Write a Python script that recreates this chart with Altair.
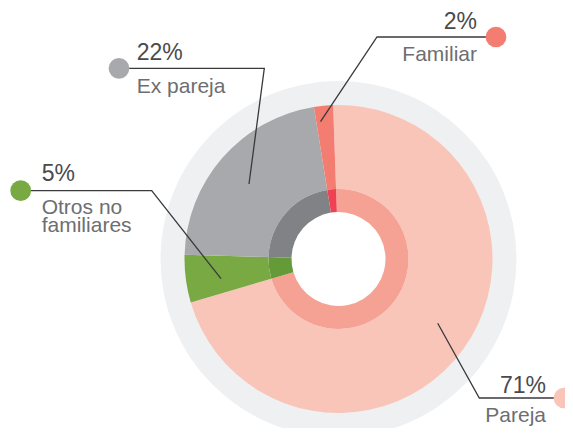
import math
import altair as alt
import pandas as pd

# ---- data -------------------------------------------------------------
categories = ["Pareja", "Otros no familiares", "Ex pareja", "Familiar"]
values = [71, 5, 22, 2]
pct_labels = ["71%", "5%", "22%", "2%"]
name_labels = ["Pareja", "Otros no\nfamiliares", "Ex pareja", "Familiar"]

# ---- styles -----------------------------------------------------------
outer_colors = ["#F9C5B9", "#78A942", "#A7A9AC", "#F47D72"]
inner_colors = ["#F5A294", "#649A37", "#808285", "#EF4151"]
dot_colors = ["#F9C5B9", "#78A942", "#A7A9AC", "#F47D72"]

W, H = 557, 420
CX, CY = 330.5, 251
R_BG, R_OUT, R_RING, R_HOLE = 178, 154, 70, 47
START = 2 * math.pi - 2 * math.pi / 180  # slight rotation

# label layout (pixel positions for annotations)
dot_xy = [(556, 390), (12.7, 182.7), (111, 60.3), (488, 29)]
elbow_xy = [(471.3, 390), (143.7, 182.7), (256.3, 60.3), (369, 29)]
tip_xy = [(429.7, 315.3), (213, 270.7), (241, 176), (312.5, 113.7)]
pct_xy = [(538, 385), (33.7, 172.7), (128.7, 52), (469, 21)]
name_xy = [(538, 413.7), (33.7, 206), (128.7, 85), (469, 52.7)]
aligns = ["right", "left", "left", "right"]

df = pd.DataFrame({"cat": categories, "value": values, "idx": list(range(len(values)))})

theta_enc = alt.Theta("value:Q", stack=True,
                      scale=alt.Scale(range=[START, START + 2 * math.pi]))
order_enc = alt.Order("idx:Q")

bg = alt.Chart(pd.DataFrame({"v": [1]})).mark_arc(
    radius=R_BG, radius2=R_OUT - 4, color="#EFF0F2", x=CX, y=CY
).encode(theta=alt.value(0), theta2=alt.value(2 * math.pi))

outer = alt.Chart(df).mark_arc(radius=R_OUT, radius2=R_RING, x=CX, y=CY).encode(
    theta=theta_enc, order=order_enc,
    color=alt.Color("cat:N", scale=alt.Scale(domain=categories, range=outer_colors), legend=None),
)

inner = alt.Chart(df).mark_arc(radius=R_RING, radius2=R_HOLE, x=CX, y=CY).encode(
    theta=theta_enc, order=order_enc,
    fill=alt.Fill("cat:N", scale=alt.Scale(domain=categories, range=inner_colors), legend=None),
)

# leader lines
rows = []
for i, c in enumerate(categories):
    for j, (x, y) in enumerate([dot_xy[i], elbow_xy[i], tip_xy[i]]):
        rows.append({"cat": c, "x": x, "y": y, "k": j})
lines_df = pd.DataFrame(rows)
leaders = alt.Chart(lines_df).mark_line(color="#3A3A3C", strokeWidth=1.3).encode(
    x=alt.X("x:Q", scale=None), y=alt.Y("y:Q", scale=None),
    detail="cat:N", order="k:Q",
)

dots_df = pd.DataFrame({"cat": categories,
                        "x": [p[0] for p in dot_xy], "y": [p[1] for p in dot_xy]})
dots = alt.Chart(dots_df).mark_circle(size=430, opacity=1).encode(
    x=alt.X("x:Q", scale=None), y=alt.Y("y:Q", scale=None),
    color=alt.Color("cat:N", scale=alt.Scale(domain=categories, range=dot_colors), legend=None),
)

text_layers = []
for i, c in enumerate(categories):
    tdf = pd.DataFrame({"t": [pct_labels[i]], "x": [pct_xy[i][0]], "y": [pct_xy[i][1]]})
    text_layers.append(
        alt.Chart(tdf).mark_text(font="Liberation Sans", fontSize=23, color="#4A4A4C",
                                 align=aligns[i], baseline="alphabetic").encode(
            x=alt.X("x:Q", scale=None), y=alt.Y("y:Q", scale=None), text="t:N")
    )
    ndf = pd.DataFrame({"t": [name_labels[i]], "x": [name_xy[i][0]], "y": [name_xy[i][1]]})
    text_layers.append(
        alt.Chart(ndf).mark_text(font="Liberation Sans", fontSize=21, color="#6D6E71",
                                 align=aligns[i], baseline="alphabetic",
                                 lineBreak="\n", lineHeight=18).encode(
            x=alt.X("x:Q", scale=None), y=alt.Y("y:Q", scale=None), text="t:N")
    )

chart = alt.layer(bg, outer, inner, leaders, dots, *text_layers).properties(
    width=W, height=H, autosize=alt.AutoSizeParams(type="none"), padding=0,
    background="white",
).configure_view(stroke=None)

chart.save("out.html", embed_options={"renderer": "svg", "actions": False})
